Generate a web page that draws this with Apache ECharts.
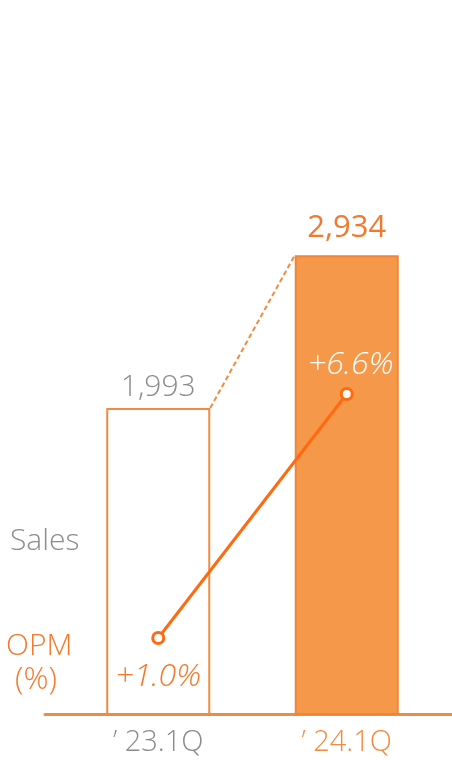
<!DOCTYPE html>
<html>
<head>
<meta charset="utf-8">
<script src="https://cdn.jsdelivr.net/npm/echarts@6/dist/echarts.min.js"></script>
<style>
  html, body { margin: 0; padding: 0; background: #fff; }
  #chart { width: 452px; height: 760px; }
</style>
</head>
<body>
<div id="chart"></div>
<script>
// data
const quarters = ['\u2019 23.1Q', '\u2019 24.1Q']
const sales = [1993, 2934]
const salesLabels = ['1,993', '2,934']
const opm = [1.0, 6.6]
const opmLabels = ['+1.0%', '+6.6%']

const orange = '#f28a3f'
const lineOrange = '#ff6a10'
const gray = '#8c8c8c'
const font = '"Open Sans", "Noto Sans", sans-serif'

const chart = echarts.init(document.getElementById('chart'))

const option = {
  animation: false,
  grid: [
    { left: 64, right: 11, top: 82, bottom: 46 },
    { left: 45, right: 0, top: 82, bottom: 46 }, // only for the long base line
  ],
  xAxis: [
    {
      type: 'category',
      gridIndex: 0,
      data: quarters.map((q, i) => ({
        value: q,
        textStyle: { color: i === 0 ? gray : orange },
      })),
      axisLine: { show: false },
      axisTick: { show: false },
      axisLabel: { fontSize: 29, fontFamily: font, fontWeight: 300, margin: 14 },
    },
    {
      type: 'category',
      gridIndex: 1,
      data: [''],
      axisLine: { lineStyle: { color: orange, width: 3 } },
      axisTick: { show: false },
      axisLabel: { show: false },
    },
  ],
  yAxis: [
    { type: 'value', gridIndex: 0, min: 110, max: 4000, show: false, splitLine: { show: false } },
    { type: 'value', gridIndex: 0, min: -0.744, max: 13.761, show: false, splitLine: { show: false } },
    { type: 'value', gridIndex: 1, show: false, splitLine: { show: false } },
  ],
  graphic: [
    { type: 'text', left: 10, top: 526, style: { text: 'Sales', fill: gray, font: '300 30px ' + font } },
    { type: 'text', left: 6, top: 631, style: { text: 'OPM', fill: '#f5782a', font: '300 30px ' + font } },
    { type: 'text', left: 15, top: 665, style: { text: '(%)', fill: '#f5782a', font: '300 31px ' + font } },
  ],
  series: [
    {
      type: 'bar',
      xAxisIndex: 0,
      yAxisIndex: 0,
      barWidth: 104,
      data: sales.map((v, i) => ({
        value: v,
        itemStyle: i === 0
          ? { color: '#fff', borderColor: orange, borderWidth: 2 }
          : { color: '#f5984a', borderColor: '#ef8537', borderWidth: 2 },
        label: {
          color: i === 0 ? gray : '#f07a2d',
          fontWeight: i === 0 ? 300 : 400,
          fontSize: i === 0 ? 30 : 31,
          distance: i === 0 ? 6 : 12,
        },
      })),
      label: {
        show: true,
        position: 'top',
        fontFamily: font,
        formatter: (p) => salesLabels[p.dataIndex],
      },
      z: 1,
    },
    {
      // dashed connector from bar tops
      type: 'custom',
      xAxisIndex: 0,
      yAxisIndex: 0,
      data: [[0, sales[0], 1, sales[1]]],
      encode: { x: [0, 2], y: [1, 3] },
      renderItem: (params, api) => {
        const a = api.coord([api.value(0), api.value(1)])
        const b = api.coord([api.value(2), api.value(3)])
        return {
          type: 'line',
          shape: { x1: a[0] + 52, y1: a[1], x2: b[0] - 52, y2: b[1] },
          style: { stroke: orange, lineWidth: 2, lineDash: [5, 3] },
        }
      },
      z: 2,
    },
    {
      type: 'line',
      xAxisIndex: 0,
      yAxisIndex: 1,
      data: opm.map((v, i) => ({
        value: v,
        label: {
          position: i === 0 ? 'bottom' : 'top',
          color: i === 0 ? '#f5782a' : '#fff',
          distance: i === 0 ? 16 : 6,
          offset: i === 0 ? [0, 0] : [4, 0],
        },
      })),
      symbol: 'circle',
      symbolSize: 11,
      lineStyle: { color: lineOrange, width: 3 },
      itemStyle: { color: '#fff', borderColor: lineOrange, borderWidth: 3 },
      label: {
        show: true,
        fontSize: 32,
        fontStyle: 'italic',
        fontWeight: 300,
        fontFamily: font,
        formatter: (p) => opmLabels[p.dataIndex],
      },
      z: 3,
    },
  ],
}

chart.setOption(option)
</script>
</body>
</html>
